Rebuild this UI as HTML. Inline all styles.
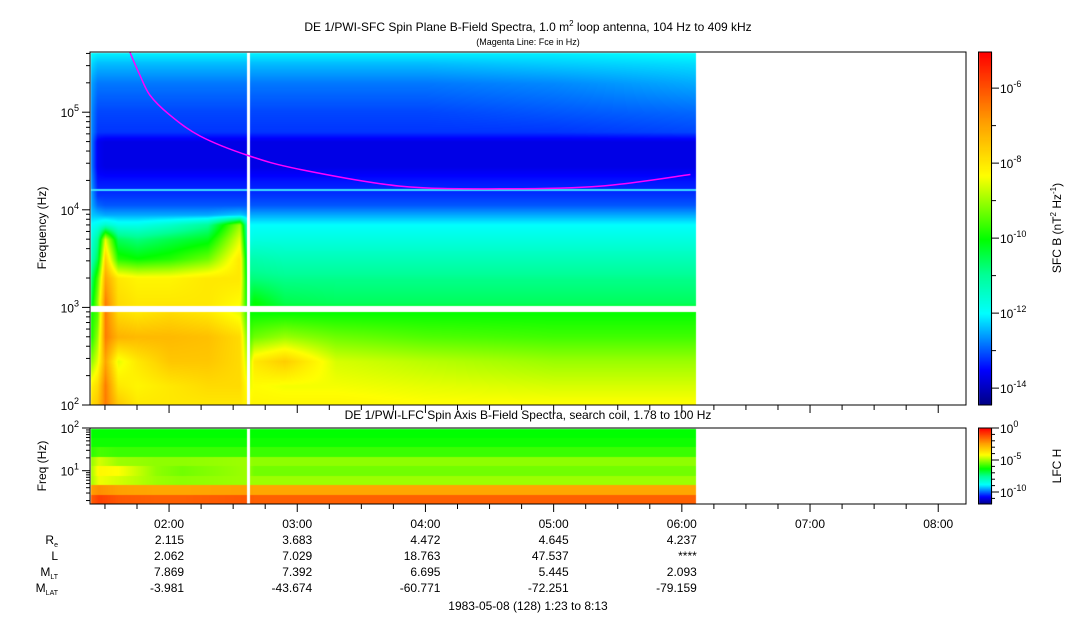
<!DOCTYPE html>
<html><head><meta charset="utf-8">
<style>
html,body{margin:0;padding:0;background:#fff;}
#wrap{position:relative;width:1083px;height:620px;overflow:hidden;font-family:"Liberation Sans",Arial,sans-serif;}
canvas,svg{position:absolute;left:0;top:0;}
</style></head>
<body>
<div id="wrap">
<canvas id="cv" width="1083" height="620"></canvas>
<svg id="sv" width="1083" height="620" xmlns="http://www.w3.org/2000/svg" font-family="Liberation Sans, Arial, sans-serif" font-size="12">
<text x="528" y="31" text-anchor="middle">DE 1/PWI-SFC  Spin Plane B-Field Spectra, 1.0 m<tspan font-size="8" dy="-5">2</tspan><tspan dy="5"> loop antenna, 104 Hz to 409 kHz</tspan></text>
<text x="528" y="45" text-anchor="middle" font-size="9">(Magenta Line: Fce in Hz)</text>
<text x="528" y="419" text-anchor="middle">DE 1/PWI-LFC  Spin Axis B-Field Spectra, search coil, 1.78 to 100 Hz</text>
<text transform="translate(46,228) rotate(-90)" text-anchor="middle">Frequency (Hz)</text>
<text transform="translate(46,466) rotate(-90)" text-anchor="middle">Freq (Hz)</text>
<text transform="translate(1061,228) rotate(-90)" text-anchor="middle">SFC B (nT<tspan font-size="8" dy="-5">2</tspan><tspan dy="5"> Hz</tspan><tspan font-size="8" dy="-5">-1</tspan><tspan dy="5">)</tspan></text>
<text transform="translate(1061,466) rotate(-90)" text-anchor="middle">LFC H</text>
<text x="528" y="610" text-anchor="middle">1983-05-08 (128) 1:23 to 8:13</text>
<g id="g"></g>
</svg>
</div>
<script>
// ---- data ----
const sfcTimes = [1.383,1.44,1.5,1.6,1.75,2.0,2.3,2.55,2.62,2.66,2.9,3.3,4.0,5.0,6.1];
const sfcFreqLog = [2.0,2.2,2.45,2.7,2.95,3.05,3.3,3.5,3.7,3.85,3.95,4.05,4.15,4.3,4.45,4.7,4.8,5.0,5.3,5.5,5.6];
const sfcPower = [
[-7.8,-7.5,-6.5,-7.5,-8.0,-8.0,-8.0,-8.0,-8.2,-8.2,-8.2,-8.2,-8.3,-8.3,-8.3],
[-8.2,-7.8,-6.5,-8.0,-8.2,-8.0,-7.8,-7.8,-8.5,-8.3,-8.4,-8.4,-8.5,-8.6,-8.6],
[-9.2,-8.5,-7.0,-8.5,-8.0,-7.5,-7.5,-7.8,-9.0,-8.0,-7.6,-8.6,-8.8,-9.0,-9.0],
[-10.0,-9.0,-6.5,-7.2,-7.3,-7.3,-7.4,-7.8,-9.6,-9.3,-9.0,-9.3,-9.5,-9.6,-9.6],
[-10.0,-9.5,-6.5,-7.8,-8.0,-7.8,-8.0,-8.5,-10.0,-10.0,-10.0,-10.0,-10.0,-10.0,-10.0],
[-10.6,-9.0,-6.5,-7.8,-8.0,-8.0,-8.0,-8.3,-10.4,-10.0,-10.5,-10.6,-10.6,-10.6,-10.6],
[-11.0,-9.5,-7.0,-8.0,-8.2,-8.2,-8.0,-8.0,-10.8,-10.8,-10.9,-10.9,-10.9,-10.9,-10.9],
[-11.5,-10.5,-7.6,-9.8,-10.0,-9.8,-9.3,-8.0,-11.2,-11.2,-11.3,-11.3,-11.3,-11.3,-11.3],
[-11.8,-11.0,-8.5,-10.6,-10.8,-10.5,-10.2,-8.5,-11.8,-11.7,-11.7,-11.7,-11.7,-11.7,-11.7],
[-12.0,-11.8,-11.5,-11.8,-11.8,-11.5,-11.0,-9.0,-12.0,-12.0,-12.0,-12.0,-12.0,-12.0,-12.0],
[-12.3,-12.4,-12.5,-12.5,-12.5,-12.5,-12.5,-12.3,-12.5,-12.5,-12.5,-12.5,-12.5,-12.5,-12.5],
[-12.4,-12.9,-13.0,-13.0,-13.0,-13.0,-13.0,-13.0,-13.0,-13.0,-13.0,-13.0,-13.0,-13.0,-13.0],
[-12.4,-13.2,-13.2,-13.2,-13.2,-13.2,-13.2,-13.2,-13.2,-13.2,-13.2,-13.2,-13.2,-13.2,-13.2],
[-12.5,-13.4,-13.4,-13.4,-13.4,-13.4,-13.4,-13.4,-13.4,-13.4,-13.4,-13.4,-13.4,-13.4,-13.4],
[-12.6,-13.6,-13.7,-13.7,-13.7,-13.7,-13.7,-13.7,-13.7,-13.7,-13.7,-13.7,-13.7,-13.7,-13.7],
[-12.6,-13.6,-13.7,-13.7,-13.7,-13.7,-13.7,-13.7,-13.7,-13.7,-13.7,-13.7,-13.7,-13.7,-13.7],
[-12.6,-13.2,-13.2,-13.2,-13.2,-13.2,-13.2,-13.2,-13.2,-13.2,-13.2,-13.2,-13.2,-13.2,-13.1],
[-12.6,-13.1,-13.1,-13.1,-13.1,-13.1,-13.1,-13.1,-13.1,-13.1,-13.1,-13.1,-13.1,-13.0,-12.9],
[-12.5,-12.8,-12.8,-12.8,-12.8,-12.8,-12.8,-12.8,-12.8,-12.8,-12.8,-12.8,-12.8,-12.7,-12.5],
[-12.2,-12.4,-12.4,-12.4,-12.4,-12.4,-12.4,-12.4,-12.4,-12.4,-12.4,-12.4,-12.4,-12.3,-12.2],
[-12.0,-12.1,-12.1,-12.1,-12.1,-12.1,-12.1,-12.1,-12.1,-12.1,-12.1,-12.1,-12.1,-12.1,-12.0]
];
const lfcTimes = [1.383,1.45,1.6,1.9,2.1,2.6,2.66,6.1];
// band fractions of colour scale, top band first
const lfcBands = [
[0.47,0.47,0.47,0.47,0.47,0.47,0.47,0.47],
[0.48,0.48,0.48,0.48,0.48,0.48,0.48,0.48],
[0.50,0.52,0.51,0.51,0.51,0.51,0.51,0.51],
[0.57,0.62,0.58,0.57,0.57,0.58,0.57,0.57],
[0.58,0.66,0.65,0.57,0.55,0.58,0.55,0.55],
[0.58,0.64,0.62,0.58,0.57,0.58,0.58,0.58],
[0.80,0.82,0.80,0.79,0.79,0.80,0.79,0.79],
[0.88,0.92,0.89,0.88,0.88,0.89,0.88,0.88]
];
const fceTimesMin = [101.7,106,111,120,134.5,157,181,228,275,322,364];
const fceHz = [409000,250000,150000,95000,57000,36000,26000,17500,16400,17500,23000];
const timeTicks = ["02:00","03:00","04:00","05:00","06:00","07:00","08:00"];
const ephemRows = ["Re","L","MLT","MLAT"];
const ephemRe = ["2.115","3.683","4.472","4.645","4.237"];
const ephemL = ["2.062","7.029","18.763","47.537","****"];
const ephemMLT = ["7.869","7.392","6.695","5.445","2.093"];
const ephemMLAT = ["-3.981","-43.674","-60.771","-72.251","-79.159"];

// ---- axes functions ----
const X0=90,X1=966,T0=83,T1=493;
const xOf = m => X0+(m-T0)*(X1-X0)/(T1-T0);
const TOPY0=52,TOPY1=405;
const yTop = lf => 405-(lf-2)*97.6;
const BY0=428,BY1=504;
const yBot = lf => 428+(2-lf)*42.7;
const dataEndMin = 366.5;

function jet(p){
  const st=[[0,0,0,130],[0.1,0,0,255],[0.26,0,255,255],[0.37,0,255,150],[0.47,0,255,0],[0.65,255,255,0],[0.8,255,160,0],[1,255,0,0]];
  p=Math.max(0,Math.min(1,p));
  for(let i=1;i<st.length;i++){ if(p<=st[i][0]){const a=st[i-1],b=st[i],f=(p-a[0])/(b[0]-a[0]);return [a[1]+f*(b[1]-a[1]),a[2]+f*(b[2]-a[2]),a[3]+f*(b[3]-a[3])];}}
  return [255,0,0];
}
function interpIdx(arr,v){
  if(v<=arr[0])return [0,0];
  for(let i=1;i<arr.length;i++) if(v<=arr[i]) return [i-1,(v-arr[i-1])/(arr[i]-arr[i-1])];
  return [arr.length-2,1];
}
const cv=document.getElementById('cv'),ctx=cv.getContext('2d');
const img=ctx.createImageData(1083,620);
function setPx(x,y,c){const k=(y*1083+x)*4;img.data[k]=c[0];img.data[k+1]=c[1];img.data[k+2]=c[2];img.data[k+3]=255;}
const xEnd=Math.round(xOf(dataEndMin));
for(let x=X0+1;x<xEnd;x++){
  const h=(T0+(x-X0)*(T1-T0)/(X1-X0))/60;
  const [ti,tf]=interpIdx(sfcTimes,h);
  for(let y=TOPY0+1;y<TOPY1;y++){
    const lf=2+(405-y)/97.6;
    const [fi,ff]=interpIdx(sfcFreqLog,lf);
    const a=sfcPower[fi][ti]*(1-tf)+sfcPower[fi][ti+1]*tf;
    const b=sfcPower[fi+1][ti]*(1-tf)+sfcPower[fi+1][ti+1]*tf;
    const v=a*(1-ff)+b*ff;
    setPx(x,y,jet((v+14.45)/9.41));
  }
  const [li,lt]=interpIdx(lfcTimes,h);
  for(let y=BY0+1;y<BY1;y++){
    const band=Math.min(7,Math.floor((y-BY0)/((BY1-BY0)/8)));
    const p=lfcBands[band][li]*(1-lt)+lfcBands[band][li+1]*lt;
    setPx(x,y,jet(p));
  }
}
// colorbars
for(let y=52;y<405;y++){const c=jet((405-y)/353);for(let x=979;x<992;x++)setPx(x,y,c);}
for(let y=428;y<504;y++){const c=jet((504-y)/76);for(let x=979;x<992;x++)setPx(x,y,c);}
ctx.putImageData(img,0,0);
// cyan line at 16.5 kHz, white gaps
ctx.fillStyle='rgb(60,220,255)';ctx.fillRect(X0+1,Math.round(yTop(Math.log10(16500))),xEnd-X0-1,2);
ctx.fillStyle='#fff';
ctx.fillRect(X0+1,306,xEnd-X0-1,6);
ctx.fillRect(247,52,3,353);ctx.fillRect(247,428,3,76);

const NS='http://www.w3.org/2000/svg';
const g=document.getElementById('g');
function el(tag,attrs,txt){const e=document.createElementNS(NS,tag);for(const k in attrs)e.setAttribute(k,attrs[k]);if(txt!==undefined)e.textContent=txt;g.appendChild(e);return e;}
// fce line (smooth Catmull-Rom through data points)
const fp=fceTimesMin.map((m,i)=>[xOf(m),yTop(Math.log10(fceHz[i]))]);
let d='M'+fp[0][0].toFixed(1)+','+fp[0][1].toFixed(1);
for(let i=0;i<fp.length-1;i++){
  const p0=fp[Math.max(0,i-1)],p1=fp[i],p2=fp[i+1],p3=fp[Math.min(fp.length-1,i+2)];
  const c1=[p1[0]+(p2[0]-p0[0])/6,p1[1]+(p2[1]-p0[1])/6],c2=[p2[0]-(p3[0]-p1[0])/6,p2[1]-(p3[1]-p1[1])/6];
  d+=' C'+c1.map(v=>v.toFixed(1)).join(',')+' '+c2.map(v=>v.toFixed(1)).join(',')+' '+p2.map(v=>v.toFixed(1)).join(',');
}
const fl=el('path',{d:d,fill:'none',stroke:'#ff00ff','stroke-width':1.5});


// frames
for(const [y0,y1,n] of [[52,405,'top-plot-frame'],[428,504,'bottom-plot-frame']]){
  const r=el('rect',{x:X0,y:y0,width:X1-X0,height:y1-y0,fill:'none',stroke:'#000','stroke-width':1});
  
  
}
for(const [y0,y1,n] of [[52,405,'colorbar-sfc'],[428,504,'colorbar-lfc']]){
  const r=el('rect',{x:978.5,y:y0,width:13,height:y1-y0,fill:'none',stroke:'#000','stroke-width':1});
  
  
}
function sup(x,y,exp,name,anchor){
  const t=el('text',{x:x,y:y,'text-anchor':anchor||'end'});
  
  
  t.innerHTML='10<tspan font-size="9" dy="-6">'+exp+'</tspan>';
}
// top y axis
for(let d=2;d<=5;d++){
  for(let m=1;m<10;m++){
    const lf=d+Math.log10(m); if(lf>5.612)break;
    const y=yTop(lf);
    el('line',{x1:X0,x2:X0-(m==1?8:4),y1:y,y2:y,stroke:'#000'});
  }
  sup(79,yTop(d)+5,d,'y-tick-label-top');
}
// bottom y axis
for(let d=0;d<=1;d++){
  for(let m=1;m<10;m++){
    const lf=d+Math.log10(m); if(lf<0.25)continue;
    const y=yBot(lf);
    el('line',{x1:X0,x2:X0-(m==1?8:4),y1:y,y2:y,stroke:'#000'});
  }
}
el('line',{x1:X0,x2:X0-8,y1:yBot(2),y2:yBot(2),stroke:'#000'});
sup(79,yBot(2)+5,2,'y-tick-label-bottom');sup(79,yBot(1)+5,1,'y-tick-label-bottom');
// time ticks
for(let m=90;m<=T1;m+=15){
  const x=xOf(m),maj=(m%60==0);
  for(const yb of [405,504]) el('line',{x1:x,x2:x,y1:yb,y2:yb+(maj?8:5),stroke:'#000'});
}
timeTicks.forEach((s,i)=>{
  const t=el('text',{x:xOf(120+60*i)+15,y:528,'text-anchor':'end'},s);
  
  
});
// ephemeris
const rowY=[544,560,576,592];
const labels=['R<tspan font-size="7" dy="3">e</tspan>','L','M<tspan font-size="7" dy="3">LT</tspan>','M<tspan font-size="7" dy="3">LAT</tspan>'];
labels.forEach((h,i)=>{const t=el('text',{x:58,y:rowY[i],'text-anchor':'end'});t.innerHTML=h;});
[ephemRe,ephemL,ephemMLT,ephemMLAT].forEach((arr,r)=>arr.forEach((v,i)=>{
  const t=el('text',{x:xOf(120+60*i)+15,y:rowY[r],'text-anchor':'end'},v);
  
  
}));
// colorbar ticks
for(let e=-5;e>=-14;e--){const y=405-(e+14.45)*37.5;if(y<52)continue;el('line',{x1:992,x2:(e%2==0?999:996),y1:y,y2:y,stroke:'#000'});if(e%2==0)sup(1000,y+5,e,'colorbar-tick-sfc','start');}
for(let e=0;e>=-11;e--){const y=428+(-e)*6.4;el('line',{x1:992,x2:(e%5==0?999:995),y1:y,y2:y,stroke:'#000'});if(e%5==0)sup(1000,y+5,e,'colorbar-tick-lfc','start');}
</script>
</body></html>
